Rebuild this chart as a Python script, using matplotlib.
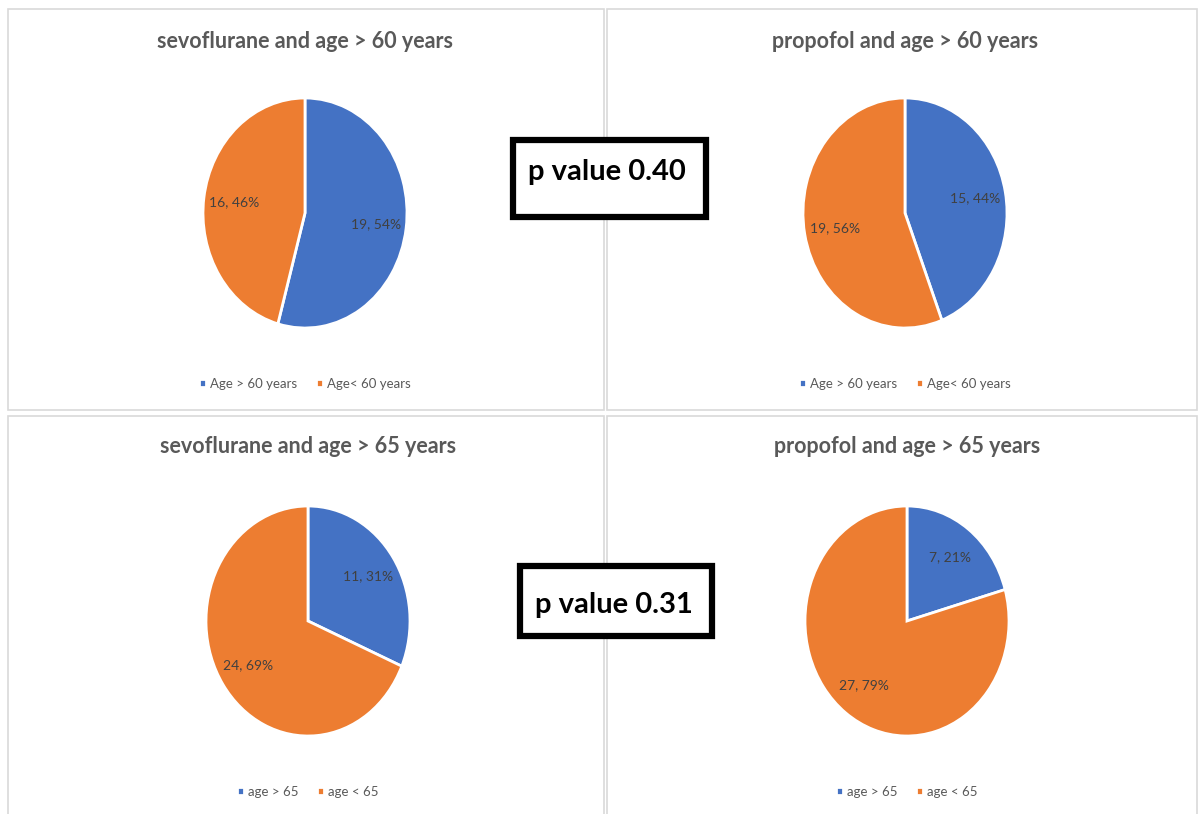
import matplotlib
matplotlib.use('Agg')
import matplotlib.pyplot as plt
from matplotlib.patches import Rectangle

W, H = 1199, 814

# data
titles = ['sevoflurane and age > 60 years', 'propofol and age > 60 years',
          'sevoflurane and age > 65 years', 'propofol and age > 65 years']
counts_sevo_60 = [19, 16]
counts_prop_60 = [15, 19]
counts_sevo_65 = [11, 24]
counts_prop_65 = [7, 27]
legend_60 = ['Age > 60 years', 'Age< 60 years']
legend_65 = ['age > 65', 'age < 65']
p_values = ['p value 0.40', 'p value 0.31']

colors = ['#4472C4', '#ED7D31']
plt.rcParams['font.family'] = ['Lato', 'DejaVu Sans']

fig = plt.figure(figsize=(W / 100, H / 100), dpi=100)
fig.patch.set_facecolor('white')


def fx(x):
    return x / W


def fy(y):
    return 1 - y / H


# panel frames (x0, y0, x1, y1 in pixels)
frames = [(8, 9, 604, 410), (607, 9, 1197, 410), (8, 416, 604, 820), (607, 416, 1197, 820)]
for x0, y0, x1, y1 in frames:
    fig.add_artist(Rectangle((fx(x0), fy(y1)), (x1 - x0) / W, (y1 - y0) / H,
                             transform=fig.transFigure, fill=False,
                             edgecolor='#d9d9d9', linewidth=1.2))

panels = [
    (counts_sevo_60, legend_60, 305, 213, 42, 384),
    (counts_prop_60, legend_60, 905, 213, 42, 384),
    (counts_sevo_65, legend_65, 308, 621, 447, 792),
    (counts_prop_65, legend_65, 907, 621, 447, 792),
]
rx, ry = 102, 115

for i, (vals, leg, cx, cy, ty, ly) in enumerate(panels):
    ax = fig.add_axes([fx(cx - rx), fy(cy + ry), 2 * rx / W, 2 * ry / H])
    total = sum(vals)

    def fmt(pct, total=total):
        n = int(round(pct * total / 100))
        return '%d, %d%%' % (n, round(pct))

    wedges, texts, autotexts = ax.pie(vals, colors=colors, startangle=90, counterclock=False,
                                      autopct=fmt, pctdistance=0.7, radius=1,
                                      wedgeprops=dict(edgecolor='white', linewidth=2))
    for t in autotexts:
        t.set_color('#404040')
        t.set_fontsize(10)
    ax.set_aspect('auto')
    ax.set_xlim(-1, 1)
    ax.set_ylim(-1, 1)

    fig.text(fx(cx), fy(ty), titles[i], ha='center', va='center', fontsize=15.5,
             fontweight='bold', color='#595959')
    fig.legend(wedges, leg, loc='center', bbox_to_anchor=(fx(cx), fy(ly)), ncol=2,
               frameon=False, fontsize=9.5, labelcolor='#595959', handlelength=0.55,
               handleheight=0.55, handletextpad=0.3, columnspacing=1.4)

# p value boxes
boxes = [(513, 140, 706, 217, 528, 172), (520, 566, 712, 636, 535, 605)]
for (x0, y0, x1, y1, tx, tyy), lab in zip(boxes, p_values):
    fig.add_artist(Rectangle((fx(x0), fy(y1)), (x1 - x0) / W, (y1 - y0) / H,
                             transform=fig.transFigure, facecolor='white',
                             edgecolor='black', linewidth=4.5, zorder=5))
    fig.text(fx(tx), fy(tyy), lab, ha='left', va='center', fontsize=21,
             fontweight='bold', color='black', zorder=6)

fig.savefig('out.png', dpi=100)
